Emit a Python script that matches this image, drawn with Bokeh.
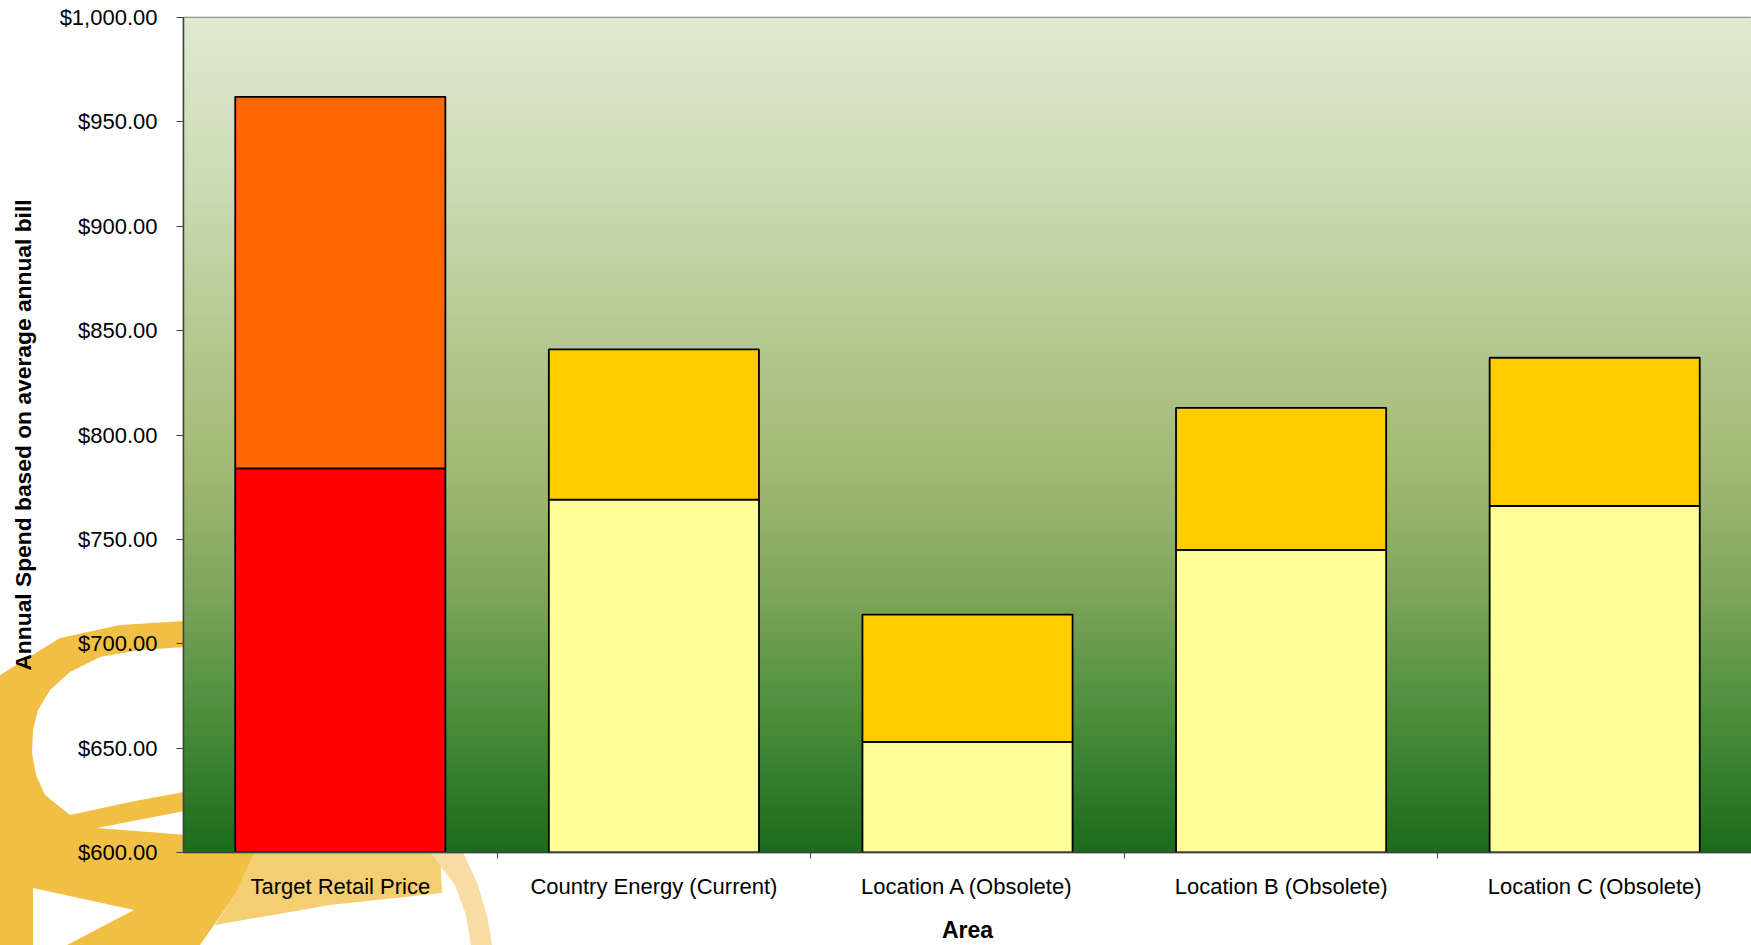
import urllib.parse
import numpy as np
from bokeh.plotting import figure
from bokeh.models import (BoxAnnotation, FixedTicker, NumeralTickFormatter,
                          Range1d)
from bokeh.embed import file_html
from bokeh.resources import INLINE

# ---- data -------------------------------------------------------------
categories = ["Target Retail Price", "Country Energy (Current)",
              "Location A (Obsolete)", "Location B (Obsolete)",
              "Location C (Obsolete)"]
base_spend = [784, 769, 653, 745, 766]      # lower segment top
total_spend = [962, 841, 714, 813, 837]     # upper segment top
y_ticks = [600, 650, 700, 750, 800, 850, 900, 950, 1000]
y_min, y_max = 600, 1000

base_colors = ["#FF0000", "#FFFF99", "#FFFF99", "#FFFF99", "#FFFF99"]
top_colors = ["#FF6600", "#FFCC00", "#FFCC00", "#FFCC00", "#FFCC00"]

FONT = "Liberation Sans"
W, H = 1751, 945

# ---- swirl logo shown in the margins behind the chart --------------------
logo_shapes = [
    ("#F2BF45",
     [(0, 675), (60, 638), (120, 625), (200, 620), (200, 646), (140, 650),
      (100, 657), (70, 672), (50, 690), (38, 710), (33, 730), (32, 753),
      (36, 775), (45, 795), (70, 815), (130, 802), (200, 789), (200, 808),
      (97, 828), (200, 836), (200, 850), (270, 850), (235, 895), (200, 945),
      (67, 945), (134, 910), (33, 888), (33, 945), (0, 945)]),
    ("#F5CE72",
     [(255, 850), (440, 850), (442, 893), (330, 905), (215, 925), (235, 895)]),
    ("#F8DCA2",
     [(428, 850), (462, 850), (478, 885), (488, 920), (492, 945), (471, 945),
      (466, 915), (455, 885)]),
]
svg_parts = ['<svg xmlns="http://www.w3.org/2000/svg" width="%d" height="%d">'
             % (W, H)]
for color, pts in logo_shapes:
    svg_parts.append('<polygon fill="%s" points="%s"/>'
                     % (color, " ".join("%d,%d" % pt for pt in pts)))
svg_parts.append("</svg>")
logo_url = "data:image/svg+xml," + urllib.parse.quote("".join(svg_parts))

p = figure(width=W, height=H, output_backend="svg", toolbar_location=None,
           x_range=Range1d(-0.5, len(categories) - 0.5),
           y_range=Range1d(y_min, y_max),
           min_border_left=183, min_border_right=0,
           min_border_top=17, min_border_bottom=90,
           background_fill_color="white", border_fill_color=None)
p.styles = {"background-color": "white",
            "background-image": 'url("%s")' % logo_url,
            "background-repeat": "no-repeat",
            "background-size": "%dpx %dpx" % (W, H)}
p.outline_line_color = "#7F7F7F"
p.outline_line_width = 1.5
p.grid.visible = False

# ---- vertical gradient for the plot area -------------------------------
stops_f = [0.0, 0.2, 0.4, 0.55, 0.7, 0.85, 1.0]
stops_rgb = np.array([(222, 233, 208), (203, 219, 180), (179, 198, 140),
                      (160, 184, 115), (122, 163, 91), (71, 138, 58),
                      (26, 107, 26)], dtype=float)
step = 1.0
for top in np.arange(y_max, y_min, -step):
    f = (y_max - top) / (y_max - y_min)
    rgb = [int(round(np.interp(f, stops_f, stops_rgb[:, k]))) for k in range(3)]
    p.add_layout(BoxAnnotation(bottom=y_min, top=float(top),
                               fill_color="#%02X%02X%02X" % tuple(rgb),
                               fill_alpha=1.0, line_color=None,
                               level="underlay"))

# ---- stacked bars -------------------------------------------------------
xs = list(range(len(categories)))
p.vbar(x=xs, width=0.67, bottom=y_min, top=base_spend,
       fill_color=base_colors, line_color="black", line_width=1.8)
p.vbar(x=xs, width=0.67, bottom=base_spend, top=total_spend,
       fill_color=top_colors, line_color="black", line_width=1.8)

# ---- axes ----------------------------------------------------------------
yax = p.yaxis[0]
yax.ticker = FixedTicker(ticks=y_ticks)
yax.formatter = NumeralTickFormatter(format="$0,0.00")
yax.minor_tick_line_color = None
yax.major_tick_out = 7
yax.major_tick_in = 0
yax.major_tick_line_color = "#404040"
yax.axis_line_color = "#404040"
yax.axis_line_width = 1.5
yax.major_label_text_font = FONT
yax.major_label_text_font_size = "22px"
yax.major_label_text_color = "black"
yax.major_label_standoff = 19
yax.axis_label = "Annual Spend based on average annual bill"
yax.axis_label_text_font = FONT
yax.axis_label_text_font_size = "22.8px"
yax.axis_label_text_font_style = "bold"
yax.axis_label_text_color = "black"
yax.axis_label_standoff = 21

xax = p.xaxis[0]
xax.ticker = FixedTicker(ticks=xs, minor_ticks=[i + 0.5 for i in xs[:-1]])
xax.major_label_overrides = {i: name for i, name in zip(xs, categories)}
xax.major_tick_out = 0
xax.major_tick_in = 0
xax.major_tick_line_color = None
xax.minor_tick_out = 6
xax.minor_tick_in = 0
xax.minor_tick_line_color = "#404040"
xax.axis_line_color = "#404040"
xax.axis_line_width = 1.5
xax.major_label_text_font = FONT
xax.major_label_text_font_size = "22px"
xax.major_label_text_color = "black"
xax.major_label_standoff = 15
xax.axis_label = "Area"
xax.axis_label_text_font = FONT
xax.axis_label_text_font_size = "23px"
xax.axis_label_text_font_style = "bold"
xax.axis_label_text_color = "black"
xax.axis_label_standoff = 15

open("out.html", "w").write(file_html(p, INLINE))
